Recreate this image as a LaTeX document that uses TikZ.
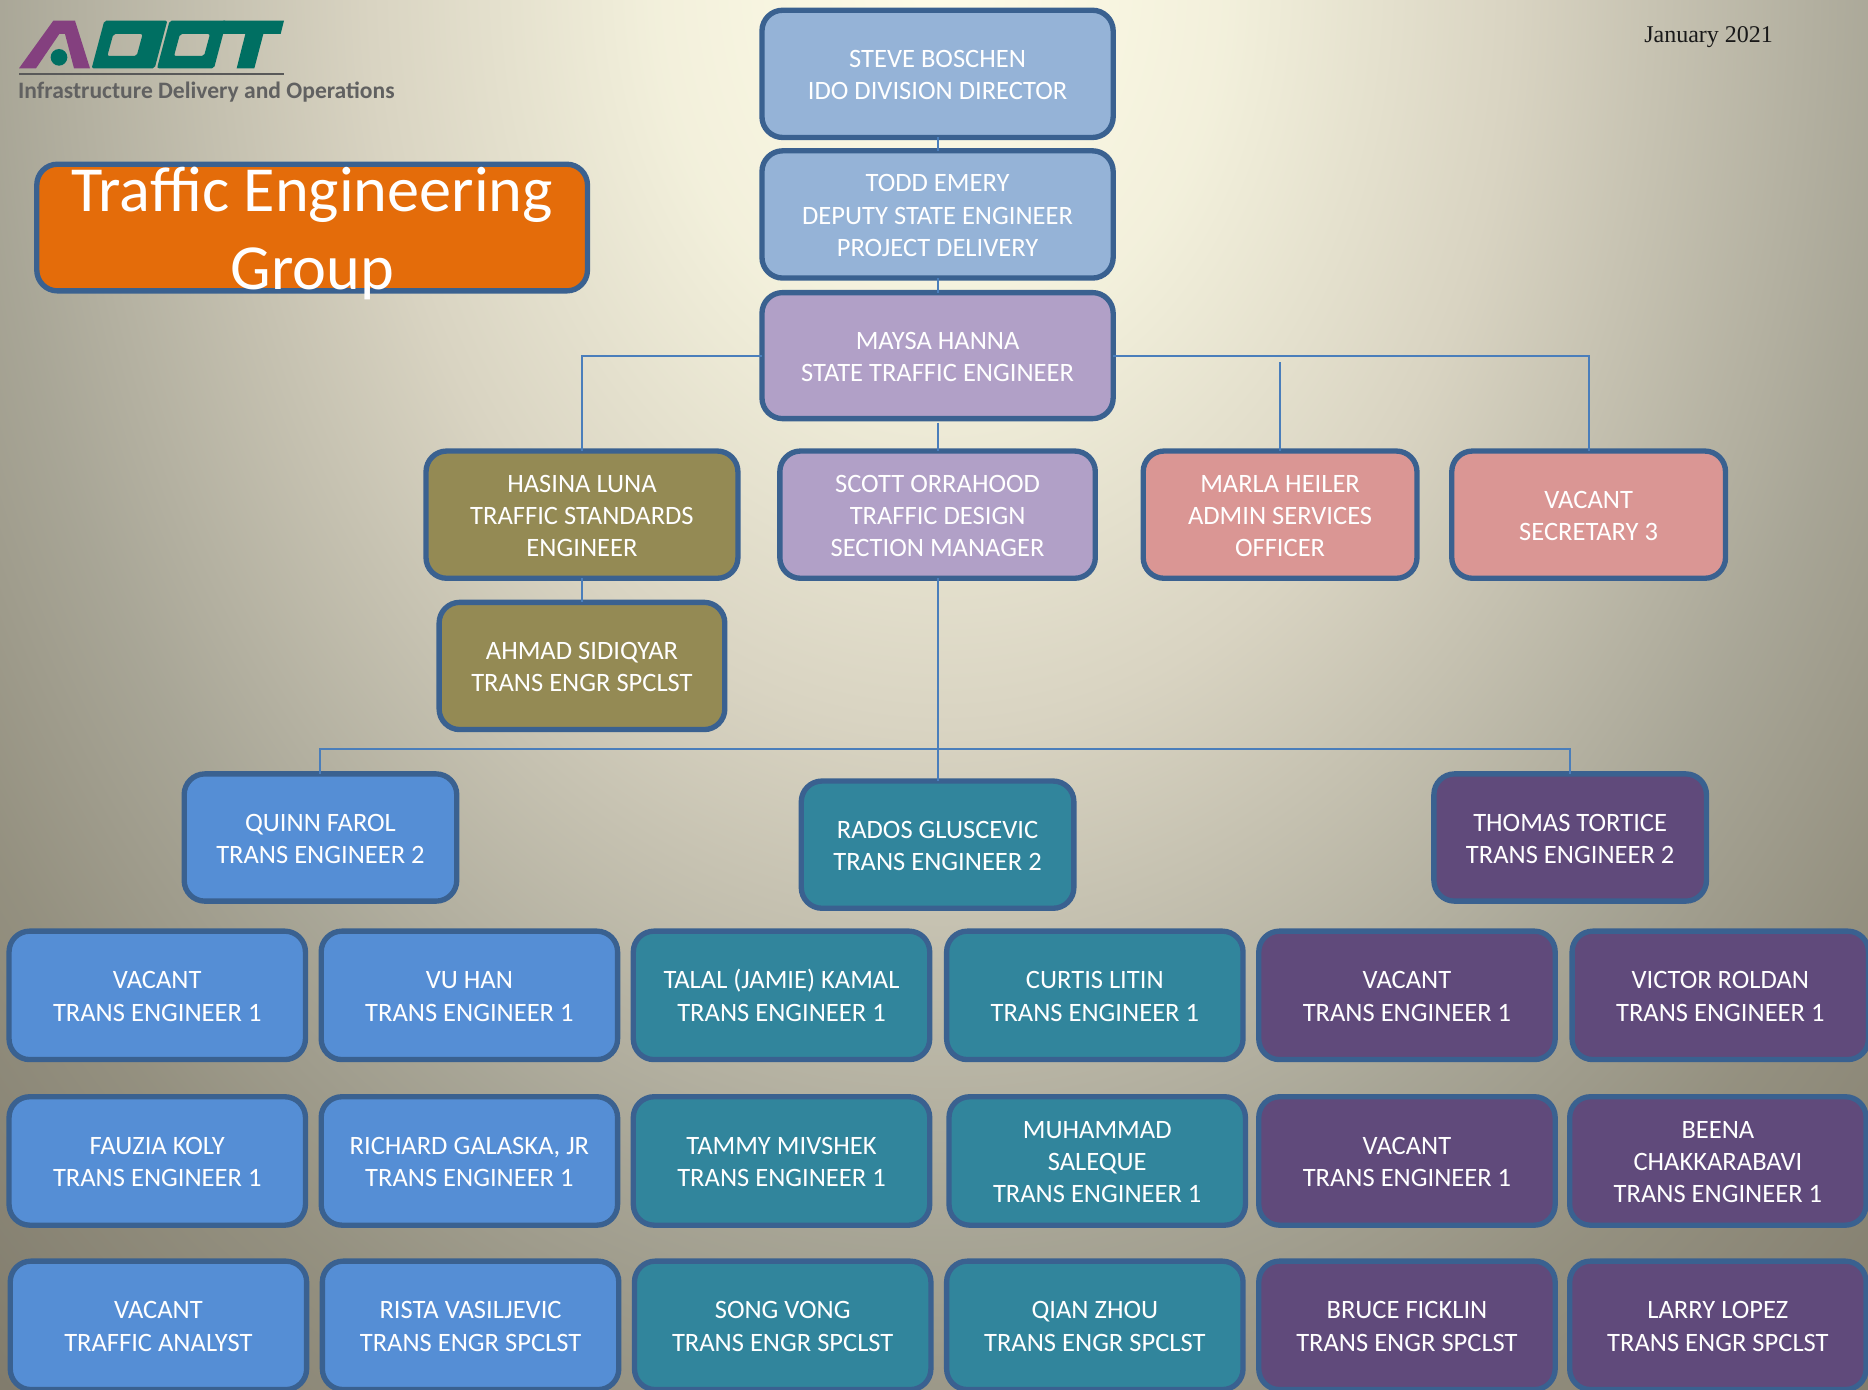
\documentclass[tikz,border=0pt]{standalone}
\usepackage{fontspec}
\setmainfont{Carlito}
\newfontfamily\jfont{Liberation Serif}
\definecolor{cLB}{HTML}{95B3D7}
\definecolor{cPU}{HTML}{B1A0C7}
\definecolor{cOL}{HTML}{948A54}
\definecolor{cPK}{HTML}{DA9694}
\definecolor{cBL}{HTML}{558ED5}
\definecolor{cTE}{HTML}{31859C}
\definecolor{cDP}{HTML}{604A7B}
\definecolor{cOR}{HTML}{E46C0A}
\definecolor{cST}{HTML}{3A6190}
\definecolor{cLN}{HTML}{4A7EBB}
\definecolor{cLA}{HTML}{84407F}
\definecolor{cLT}{HTML}{006F62}
\pgfdeclareradialshading{bgs}{\pgfpoint{0bp}{0bp}}{%
 rgb(0bp)=(1,0.99,0.91);
 rgb(4.7bp)=(0.95,0.94,0.86);
 rgb(9.4bp)=(0.85,0.83,0.76);
 rgb(15.6bp)=(0.66,0.65,0.59);
 rgb(19bp)=(0.58,0.565,0.50);
 rgb(23.75bp)=(0.50,0.48,0.42);
 rgb(25bp)=(0.48,0.46,0.40);
 rgb(50bp)=(0.48,0.46,0.40)}
\tikzset{
 bx/.style={draw=cST,line width=4pt,rounded corners=15.5pt,inner sep=0pt,outer sep=0pt,
  align=center,text=white,font=\fontsize{19.9}{24.1}\selectfont},
 cn/.style={draw=cLN,line width=1.5pt}
}
\newcommand{\bx}[7]{%
 \pgfmathsetmacro{\cxx}{(#3+#5)/2}\pgfmathsetmacro{\cyy}{(#4+#6)/2}%
 \pgfmathsetmacro{\ww}{(#5-#3-3.2)*0.8935}\pgfmathsetmacro{\hh}{(#6-#4-3.2)*0.8935}%
 \node[bx,fill=#2,minimum width=\ww pt,minimum height=\hh pt] (#1) at (\cxx,\cyy) {\rule{0pt}{18.5pt}#7\rule[-4pt]{0pt}{4pt}};}
\begin{document}
\begin{tikzpicture}[x=0.8935pt,y=-0.8935pt]
\useasboundingbox (0,0) rectangle (1568,1166);
\begin{scope}
\clip (0,0) rectangle (1568,1166);
\path[shading=bgs] (790,-20) ellipse [x radius=1280,y radius=1680];
\end{scope}
% logo
\begin{scope}[shift={(8.394,8.394)},x=0.25pt,y=-0.25pt]
\fill[cLA] (27,175) -- (130,32) -- (195,32) -- (240,175) -- (192,175) -- (165,72) -- (148,72) -- (78,175) -- cycle;
\fill[cLT] (147,142) circle [radius=25];
\fill[cLT,even odd rule,rounded corners=1.5pt] (245,175) -- (283,32) -- (472,32) -- (434,175) -- cycle
 (310,72) -- (292,138) -- (380,138) -- (398,72) -- cycle;
\fill[cLT,even odd rule,rounded corners=1.5pt] (479,32) -- (650,32) -- (612,175) -- (441,175) -- cycle
 (510,72) -- (492,138) -- (582,138) -- (600,72) -- cycle;
\fill[cLT] (640,32) -- (822,32) -- (812,72) -- (760,72) -- (733,175) -- (680,175) -- (706,72) -- (632,72) -- cycle;
\fill[black!65] (27,190) rectangle (822,196);
\end{scope}
\node[inner sep=0pt,anchor=base west,text=black!62,font=\fontsize{17.67}{20}\bfseries\selectfont] (tag) at (15,82.5) {Infrastructure Delivery and Operations};
\node[inner sep=0pt,anchor=base west,text=black!90,font=\jfont\fontsize{18}{20}\selectfont] (date) at (1380,36) {January 2021};
% boxes
\node[bx,fill=cOR,minimum width=413pt,minimum height=95pt] (title) at (262,191) {};
\node[inner sep=0pt,align=center,text=white,font=\fontsize{48.2}{58}\selectfont] (titletext) at (262,196) {Traffic Engineering\\Group};
\bx{steve}{cLB}{638}{7}{936}{117}{STEVE BOSCHEN\\IDO DIVISION DIRECTOR}
\bx{todd}{cLB}{638}{125}{936}{235}{TODD EMERY\\DEPUTY STATE ENGINEER\\PROJECT DELIVERY}
\bx{maysa}{cPU}{638}{244}{936}{353}{MAYSA HANNA\\STATE TRAFFIC ENGINEER}
\bx{hasina}{cOL}{356}{377}{621}{487}{HASINA LUNA\\TRAFFIC STANDARDS\\ENGINEER}
\bx{scott}{cPU}{653}{377}{921}{487}{SCOTT ORRAHOOD\\TRAFFIC DESIGN\\SECTION MANAGER}
\bx{marla}{cPK}{958}{377}{1191}{487}{MARLA HEILER\\ADMIN SERVICES\\OFFICER}
\bx{sec}{cPK}{1217}{377}{1450}{487}{VACANT\\SECRETARY 3}
\bx{ahmad}{cOL}{367}{504}{610}{614}{AHMAD SIDIQYAR\\TRANS ENGR SPCLST}
\bx{quinn}{cBL}{153}{648}{385}{758}{QUINN FAROL\\TRANS ENGINEER 2}
\bx{rados}{cTE}{671}{654}{903}{764}{RADOS GLUSCEVIC\\TRANS ENGINEER 2}
\bx{thomas}{cDP}{1202}{648}{1434}{758}{THOMAS TORTICE\\TRANS ENGINEER 2}
\bx{ra}{cBL}{6}{780}{258}{891}{VACANT\\TRANS ENGINEER 1}
\bx{rb}{cBL}{268}{780}{520}{891}{VU HAN\\TRANS ENGINEER 1}
\bx{rc}{cTE}{530}{780}{782}{891}{TALAL (JAMIE) KAMAL\\TRANS ENGINEER 1}
\bx{rd}{cTE}{793}{780}{1045}{891}{CURTIS LITIN\\TRANS ENGINEER 1}
\bx{re}{cDP}{1055}{780}{1307}{891}{VACANT\\TRANS ENGINEER 1}
\bx{rf}{cDP}{1318}{780}{1570}{891}{VICTOR ROLDAN\\TRANS ENGINEER 1}
\bx{sa}{cBL}{6}{919}{258}{1030}{FAUZIA KOLY\\TRANS ENGINEER 1}
\bx{sb}{cBL}{268}{919}{520}{1030}{RICHARD GALASKA, JR\\TRANS ENGINEER 1}
\bx{sc}{cTE}{530}{919}{782}{1030}{TAMMY MIVSHEK\\TRANS ENGINEER 1}
\bx{sd}{cTE}{795}{919}{1047}{1030}{MUHAMMAD\\SALEQUE\\TRANS ENGINEER 1}
\bx{se}{cDP}{1055}{919}{1307}{1030}{VACANT\\TRANS ENGINEER 1}
\bx{sf}{cDP}{1316}{919}{1568}{1030}{BEENA\\CHAKKARABAVI\\TRANS ENGINEER 1}
\bx{ta}{cBL}{7}{1057}{259}{1168}{VACANT\\TRAFFIC ANALYST}
\bx{tb}{cBL}{269}{1057}{521}{1168}{RISTA VASILJEVIC\\TRANS ENGR SPCLST}
\bx{tc}{cTE}{531}{1057}{783}{1168}{SONG VONG\\TRANS ENGR SPCLST}
\bx{td}{cTE}{793}{1057}{1045}{1168}{QIAN ZHOU\\TRANS ENGR SPCLST}
\bx{te}{cDP}{1055}{1057}{1307}{1168}{BRUCE FICKLIN\\TRANS ENGR SPCLST}
\bx{tf}{cDP}{1316}{1057}{1568}{1168}{LARRY LOPEZ\\TRANS ENGR SPCLST}
% connectors
\draw[cn] (steve.south) -- (todd.north);
\draw[cn] (todd.south) -- (maysa.north);
\draw[cn,shorten <=3pt] (maysa.south) -- (scott.north);
\draw[cn] (maysa.west) -| (hasina.north);
\draw[cn] (maysa.east) -| (sec.north);
\coordinate (mtop) at (marla.north |- 0,304);
\draw[cn] (mtop) -- (marla.north);
\draw[cn] (hasina.south) -- (ahmad.north);
\draw[cn] (scott.south) -- (rados.north);
\coordinate (bus) at (scott.south |- 0,629);
\draw[cn] (bus) -| (quinn.north);
\draw[cn] (bus) -| (thomas.north);
\end{tikzpicture}
\end{document}
